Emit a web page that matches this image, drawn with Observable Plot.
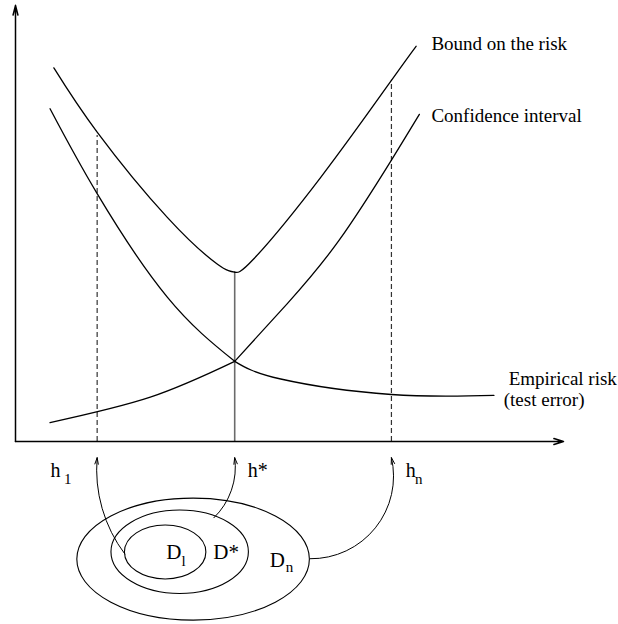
<!DOCTYPE html>
<html><head><meta charset="utf-8">
<script src="https://cdn.jsdelivr.net/npm/d3@7"></script>
<script src="https://cdn.jsdelivr.net/npm/@observablehq/plot@0.6"></script>
<style>html,body{margin:0;padding:0;background:#fff;} #chart{width:618px;height:624px;overflow:hidden}</style>
</head><body><div id="chart"></div>
<script>
// Curves (x = capacity h, y = risk), abstract units 0..100
const boundX = [7.0, 14.9, 27.7, 36.8, 40.0, 43.5, 55.7, 68.6, 73.1];
const boundY = [86.7, 71.8, 52.0, 41.2, 39.3, 42.4, 61.3, 83.8, 91.7];
const empX = [6.3, 14.9, 27.7, 40.0, 48.4, 68.6, 87.3];
const empY = [77.2, 57.5, 33.5, 18.6, 14.5, 10.9, 10.7];
const confX = [6.3, 24.6, 40.0, 49.6, 59.0, 68.6, 73.7];
const confY = [4.4, 10.3, 18.6, 32.0, 46.6, 65.3, 75.9];

// Curve labels
const curveLabels = ["Bound on the risk", "Confidence interval", "Empirical risk", "(test error)"];
const curveLabelX = [75.9, 75.9, 90.0, 89.1];
const curveLabelY = [90.9, 74.1, 13.0, 8.2];

// Marked capacities h1, h*, hn
const hNames = ["h", "h*", "h"];
const hSubs = ["1", "", "n"];
const hPos = [14.9, 40.0, 68.6];
const hTop = [71.0, 39.3, 83.8];
const hDashed = [true, false, true];
const hLabelX = [6.4, 42.4, 71.2];
const hSubX = [8.85, null, 72.9];
const hLabelY = -8.3;
const hSubY = -9.8;

// Nested sets D_l ⊂ D* ⊂ D_n
const setNames = ["D", "D*", "D"];
const setSubs = ["l", "", "n"];
const setCx = [27.4, 30.05, 32.5];
const setCy = [-25.75, -25.7, -27.4];
const setRx = [7.43, 12.54, 21.22];
const setRy = [6.26, 9.68, 14.15];
const setLabelX = [27.5, 36.1, 46.4];
const setLabelY = [-27.2, -27.2, -29.2];
const setSubX = [30.3, null, 49.3];
const setSubY = [-28.8, null, -30.3];

// Arrows from sets to capacities
const arrowFromX = [19.95, 36.2, 53.8];
const arrowFromY = [-26.1, -17.7, -27.2];
const arrowToY = -3.75;
const arrowBend = [21, -27, -52];

const hStar = hPos[1];
const pts = (xs, ys) => xs.map((x, i) => ({x, y: ys[i]}));
// split each curve into its two branches meeting at h*
const branches = rows => [
  ...rows.filter(d => d.x <= hStar).map(d => ({...d, side: 0})),
  ...rows.filter(d => d.x >= hStar).map(d => ({...d, side: 1}))
];
const bound = branches(pts(boundX, boundY));
const emp = branches(pts(empX, empY));
const conf = branches(pts(confX, confY));
const curveText = curveLabels.map((t, i) => ({t, x: curveLabelX[i], y: curveLabelY[i]}));
const hRows = hNames.map((n, i) => ({n, sub: hSubs[i], x: hPos[i], top: hTop[i], dashed: hDashed[i], lx: hLabelX[i], sx: hSubX[i]}));
const sets = setNames.map((n, i) => ({n, sub: setSubs[i], cx: setCx[i], cy: setCy[i], rx: setRx[i], ry: setRy[i], lx: setLabelX[i], ly: setLabelY[i], sx: setSubX[i], sy: setSubY[i]}));
const arrows = arrowFromX.map((x, i) => ({x1: x, y1: arrowFromY[i], x2: hPos[i], y2: arrowToY, bend: arrowBend[i]}));
const axes = [{x1: 0, y1: 0, x2: 100, y2: 0}, {x1: 0, y1: 0, x2: 0, y2: 101.2}];

const ellipses = (index, {x, y}) => {
  const g = d3.create("svg:g").attr("fill", "none").attr("stroke", "black").attr("stroke-width", 1.1);
  for (const e of sets) {
    g.append("ellipse")
      .attr("cx", x(e.cx)).attr("cy", y(e.cy))
      .attr("rx", Math.abs(x(e.cx + e.rx) - x(e.cx)))
      .attr("ry", Math.abs(y(e.cy + e.ry) - y(e.cy)));
  }
  return g.node();
};

const font = "'Liberation Serif', 'Times New Roman', serif";
const curveOpts = {x: "x", y: "y", z: "side", curve: "natural", stroke: "black", strokeWidth: 1.3};

const chart = Plot.plot({
  width: 618, height: 624, margin: 0,
  x: {domain: [0, 100], range: [15, 563], axis: null},
  y: {domain: [0, 100], range: [441, 10], axis: null},
  style: {fontFamily: font, background: "#fff", overflow: "visible"},
  marks: [
    Plot.ruleX(hRows.filter(d => d.dashed), {x: "x", y1: 0, y2: "top", stroke: "#333", strokeWidth: 1.2, strokeDasharray: "5,3"}),
    Plot.ruleX(hRows.filter(d => !d.dashed), {x: "x", y1: 0, y2: "top", stroke: "#6b6b6b", strokeWidth: 1.6}),
    Plot.line(bound, curveOpts),
    Plot.line(emp, curveOpts),
    Plot.line(conf, curveOpts),
    Plot.arrow(axes.slice(0, 1), {x1: "x1", y1: "y1", x2: "x2", y2: "y2", stroke: "black", strokeWidth: 1.5, headLength: 10, headAngle: 34}),
    Plot.arrow(axes.slice(1), {x1: "x1", y1: "y1", x2: "x2", y2: "y2", stroke: "black", strokeWidth: 1.5, headLength: 10, headAngle: 28}),
    ellipses,
    ...arrows.map(a => Plot.arrow([a], {x1: "x1", y1: "y1", x2: "x2", y2: "y2", bend: a.bend, stroke: "black", strokeWidth: 1, headLength: 10, headAngle: 30})),
    Plot.text(curveText, {x: "x", y: "y", text: "t", textAnchor: "start", lineAnchor: "bottom", fontSize: 19, fill: "black"}),
    Plot.text(hRows, {x: "lx", y: () => hLabelY, text: "n", textAnchor: "start", lineAnchor: "bottom", fontSize: 20, fill: "black"}),
    Plot.text(hRows.filter(d => d.sub), {x: "sx", y: () => hSubY, text: "sub", textAnchor: "start", lineAnchor: "bottom", fontSize: 15, fill: "black"}),
    Plot.text(sets, {x: "lx", y: "ly", text: "n", textAnchor: "start", lineAnchor: "bottom", fontSize: 21, fill: "black"}),
    Plot.text(sets.filter(d => d.sub), {x: "sx", y: "sy", text: "sub", textAnchor: "start", lineAnchor: "bottom", fontSize: 15, fill: "black"})
  ]
});
document.getElementById("chart").append(chart);
</script>
</body></html>
